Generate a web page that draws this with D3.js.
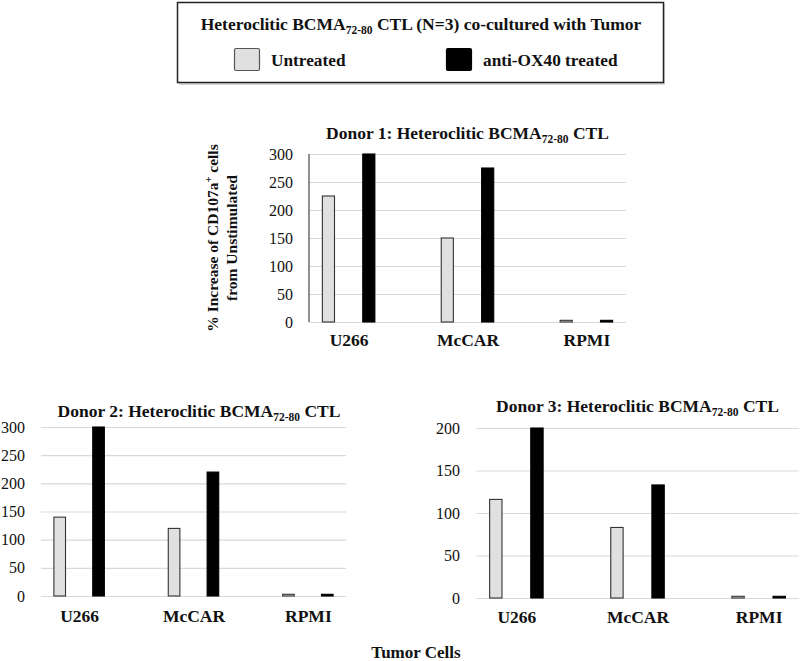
<!DOCTYPE html>
<html>
<head>
<meta charset="utf-8">
<script src="https://cdn.jsdelivr.net/npm/d3@7"></script>
<style>
  body { margin: 0; background: #fff; }
  svg { display: block; font-family: "Liberation Serif", "Times New Roman", serif; }
</style>
</head>
<body>
<svg id="chart" width="800" height="661"></svg>
<script>
// ---- data ----
const categories = ["U266", "McCAR", "RPMI"];
const seriesNames = ["Untreated", "anti-OX40 treated"];
const seriesColors = ["#e0e0e0", "#000000"];

const donor1Untreated = [225, 150, 3];
const donor1Treated   = [300, 275, 3];
const donor2Untreated = [140, 120, 3];
const donor2Treated   = [300, 220, 3];
const donor3Untreated = [116, 83, 2];
const donor3Treated   = [200, 133, 2];

const ticks300 = [0, 50, 100, 150, 200, 250, 300];
const ticks200 = [0, 50, 100, 150, 200];

const donorTitles = ["Donor 1: Heteroclitic BCMA", "Donor 2: Heteroclitic BCMA", "Donor 3: Heteroclitic BCMA"];

// ---- layout ----
const panels = [
  { title: donorTitles[0], vals: [donor1Untreated, donor1Treated], max: 300, ticks: ticks300,
    x0: 309, x1: 626, yTop: 154, yBot: 322, titleX: 467.5, titleY: 139, axisLine: true, labPad: 11.5 },
  { title: donorTitles[1], vals: [donor2Untreated, donor2Treated], max: 300, ticks: ticks300,
    x0: 41, x1: 346, yTop: 427, yBot: 596, titleX: 199, titleY: 416.5, axisLine: false, labPad: 14 },
  { title: donorTitles[2], vals: [donor3Untreated, donor3Treated], max: 200, ticks: ticks200,
    x0: 476, x1: 799, yTop: 428, yBot: 598, titleX: 637.5, titleY: 412, axisLine: false, labPad: 13 }
];

const FONT = "'Liberation Serif', 'Times New Roman', serif";
const svg = d3.select("#chart");

// ---- legend box ----
const lg = svg.append("g");
lg.append("rect").attr("x", 179).attr("y", 4).attr("width", 486).attr("height", 81)
  .attr("fill", "#d8d8d8");
lg.append("rect").attr("x", 177.5).attr("y", 2.5).attr("width", 486).attr("height", 80)
  .attr("fill", "#fff").attr("stroke", "#222").attr("stroke-width", 1.5);
const lt = lg.append("text").attr("x", 421).attr("y", 30).attr("text-anchor", "middle")
  .attr("font-size", 17.5).attr("font-weight", "bold").attr("fill", "#111");
lt.append("tspan").text("Heteroclitic BCMA");
lt.append("tspan").attr("font-size", 11.5).attr("dy", 4).text("72-80");
lt.append("tspan").attr("dy", -4).text(" CTL (N=3) co-cultured with Tumor");

const legendItems = [{ x: 234, tx: 271 }, { x: 446, tx: 483 }];
legendItems.forEach((it, i) => {
  lg.append("rect").attr("x", it.x + 0.5).attr("y", 48.5).attr("width", 25).attr("height", 22)
    .attr("rx", 1.5)
    .attr("fill", seriesColors[i]).attr("stroke", i === 0 ? "#555" : "#000").attr("stroke-width", 1.2);
  lg.append("text").attr("x", it.tx).attr("y", 66).attr("font-size", 17.3).attr("font-weight", "bold")
    .attr("fill", "#111").text(seriesNames[i]);
});

// ---- panels ----
panels.forEach(p => {
  const g = svg.append("g");
  const x = d3.scalePoint().domain(categories).range([p.x0, p.x1]).padding(1 / 3);
  const step = x.step();
  const inner = d3.scaleBand().domain(seriesNames)
    .range([-0.225 * step, 0.225 * step]).paddingInner(0.675).paddingOuter(0);
  const y = d3.scaleLinear().domain([0, p.max]).range([p.yBot, p.yTop]);

  // gridlines + tick labels
  const yAxis = g.append("g").attr("transform", `translate(${p.x0},0)`)
    .call(d3.axisLeft(y).tickValues(p.ticks).tickSize(-(p.x1 - p.x0)).tickPadding(16));
  yAxis.attr("font-family", FONT);
  yAxis.select(".domain").remove();
  yAxis.selectAll(".tick line").attr("stroke", "#d9d9d9").attr("stroke-width", 1.2);
  yAxis.selectAll(".tick text").attr("font-size", 16).attr("fill", "#111");

  if (p.axisLine) {
    g.append("line").attr("x1", p.x0).attr("x2", p.x0).attr("y1", p.yTop).attr("y2", p.yBot)
      .attr("stroke", "#555").attr("stroke-width", 1.3);
  }

  // bars
  seriesNames.forEach((s, si) => {
    g.append("g").selectAll("rect").data(categories).join("rect")
      .attr("x", c => x(c) + inner(s) + 0.5)
      .attr("width", inner.bandwidth() - 1)
      .attr("y", (c, ci) => y(p.vals[si][ci]))
      .attr("height", (c, ci) => y(0) - y(p.vals[si][ci]))
      .attr("fill", seriesColors[si])
      .attr("stroke", si === 0 ? "#333" : "#000")
      .attr("stroke-width", 1.1);
  });

  // category labels
  const xAxis = g.append("g").attr("transform", `translate(0,${p.yBot})`)
    .call(d3.axisBottom(x).tickSize(0).tickPadding(p.labPad));
  xAxis.attr("font-family", FONT);
  xAxis.select(".domain").remove();
  xAxis.selectAll(".tick text").attr("font-size", 17.5).attr("font-weight", "bold").attr("fill", "#111");

  // title
  const t = g.append("text").attr("x", p.titleX).attr("y", p.titleY).attr("text-anchor", "middle")
    .attr("font-size", 17.5).attr("font-weight", "bold").attr("fill", "#111");
  t.append("tspan").text(p.title);
  t.append("tspan").attr("font-size", 11.5).attr("dy", 4).text("72-80");
  t.append("tspan").attr("dy", -4).text(" CTL");
});

// ---- y-axis title (donor 1) ----
const yt = svg.append("text").attr("transform", "translate(218,238) rotate(-90)")
  .attr("text-anchor", "middle").attr("font-size", 15.5).attr("font-weight", "bold").attr("fill", "#111");
yt.append("tspan").text("% Increase of CD107a");
yt.append("tspan").attr("font-size", 10.5).attr("dy", -6).text("+");
yt.append("tspan").attr("dy", 6).text(" cells");
svg.append("text").attr("transform", "translate(237,238) rotate(-90)")
  .attr("text-anchor", "middle").attr("font-size", 15.5).attr("font-weight", "bold").attr("fill", "#111")
  .text("from Unstimulated");

// ---- shared x title ----
svg.append("text").attr("x", 416).attr("y", 658).attr("text-anchor", "middle")
  .attr("font-size", 17).attr("font-weight", "bold").attr("fill", "#111").text("Tumor Cells");
</script>
</body>
</html>
